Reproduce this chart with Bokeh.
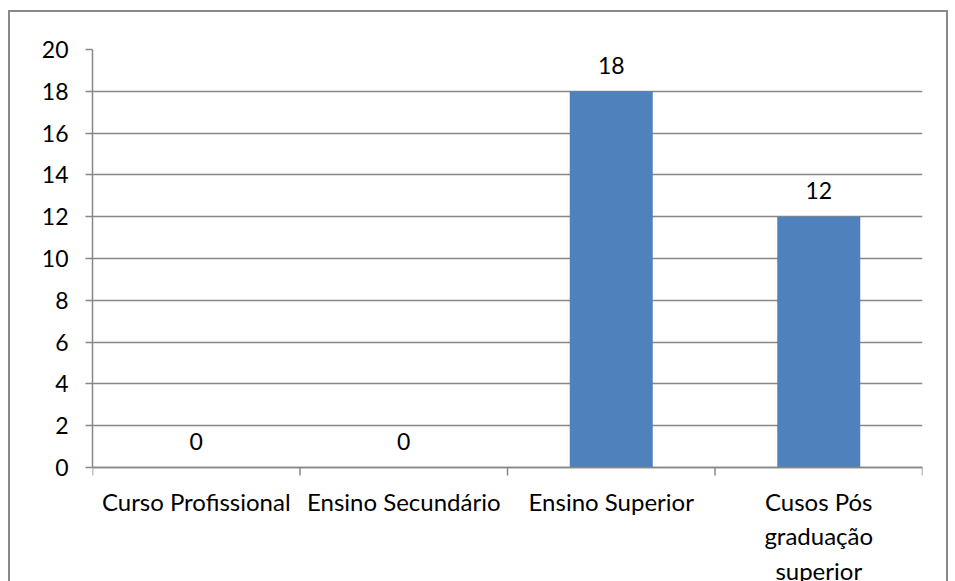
from bokeh.plotting import figure
from bokeh.models import Range1d, FixedTicker, ColumnDataSource, InlineStyleSheet, LinearAxis
from bokeh.core.properties import value
from bokeh.embed import file_html
from bokeh.resources import INLINE

categories = ["Curso Profissional", "Ensino Secundário", "Ensino Superior",
              "Cusos Pós graduação superior"]
tick_labels = ["Curso Profissional", "Ensino Secundário", "Ensino Superior",
               "Cusos Pós\ngraduação\nsuperior"]
values = [0, 0, 18, 12]
y_ticks = [0, 2, 4, 6, 8, 10, 12, 14, 16, 18, 20]

FONT = "Lato"
GRAY = "#878787"
BLUE = "#4F81BD"

n = len(categories)
centers = [i + 0.5 for i in range(n)]
bounds = [i for i in range(n + 1)]

# layout (pixels): frame top at 49, value 0 at 467, figure bottom at 581
W, H = 955, 581
TOP, ZERO = 49, 467
TICK = 8
y_max = y_ticks[-1]
px_per_unit = (ZERO - TOP) / y_max
y_min = -(H - ZERO) / px_per_unit

p = figure(width=W, height=H, x_range=Range1d(0, n), y_range=Range1d(y_min, y_max),
           output_backend="svg", toolbar_location=None, x_axis_location=None,
           min_border_left=92, min_border_right=33, min_border_top=TOP,
           min_border_bottom=0)
p.outline_line_color = None
p.background_fill_color = "white"
p.border_fill_color = "white"

src = ColumnDataSource(dict(x=centers, top=values, lab=[str(v) for v in values]))
p.vbar(x="x", top="top", bottom=0, width=0.4, source=src, fill_color=BLUE,
       line_color=None)
p.text(x="x", y="top", text="lab", source=src, y_offset=-26,
       text_align="center", text_baseline="middle", text_font=value(FONT),
       text_font_size="23px", text_color="black")

# y axis
p.yaxis.ticker = FixedTicker(ticks=y_ticks)
p.yaxis.bounds = (0, y_max)
p.yaxis.axis_line_color = GRAY
p.yaxis.axis_line_width = 1.5
p.yaxis.major_tick_line_color = GRAY
p.yaxis.major_tick_line_width = 1.5
p.yaxis.major_tick_out = 7
p.yaxis.major_tick_in = 0
p.yaxis.minor_tick_line_color = None
p.yaxis.major_label_standoff = 17
p.yaxis.major_label_text_font = FONT
p.yaxis.major_label_text_font_size = "23px"
p.yaxis.major_label_text_color = "black"

# category axis at value 0: axis line + category labels
x_lab = LinearAxis(fixed_location=0, ticker=FixedTicker(ticks=centers),
                   major_label_overrides={c: t for c, t in zip(centers, tick_labels)},
                   axis_line_color=GRAY, axis_line_width=1.5,
                   major_tick_line_color=None, minor_tick_line_color=None,
                   major_tick_out=TICK, major_tick_in=0,
                   major_label_standoff=11, major_label_text_font=FONT,
                   major_label_text_font_size="24px", major_label_text_color="black",
                   major_label_text_line_height=1.2)
p.add_layout(x_lab, "below")

# tick marks between categories (Excel style)
bsrc = ColumnDataSource(dict(b=bounds))
p.segment(x0="b", y0=0, x1="b", y1=-TICK / px_per_unit, source=bsrc,
          line_color=GRAY, line_width=1.5)

p.xgrid.grid_line_color = None
p.ygrid.ticker = FixedTicker(ticks=y_ticks)
p.ygrid.grid_line_color = GRAY
p.ygrid.grid_line_width = 1.5

p.stylesheets = [InlineStyleSheet(css=(
    ":host::after{content:'';position:absolute;left:8px;top:10px;"
    "width:940px;height:640px;border:2px solid #898989;box-sizing:border-box;"
    "pointer-events:none;}"))]

open("out.html", "w").write(file_html(p, INLINE))
